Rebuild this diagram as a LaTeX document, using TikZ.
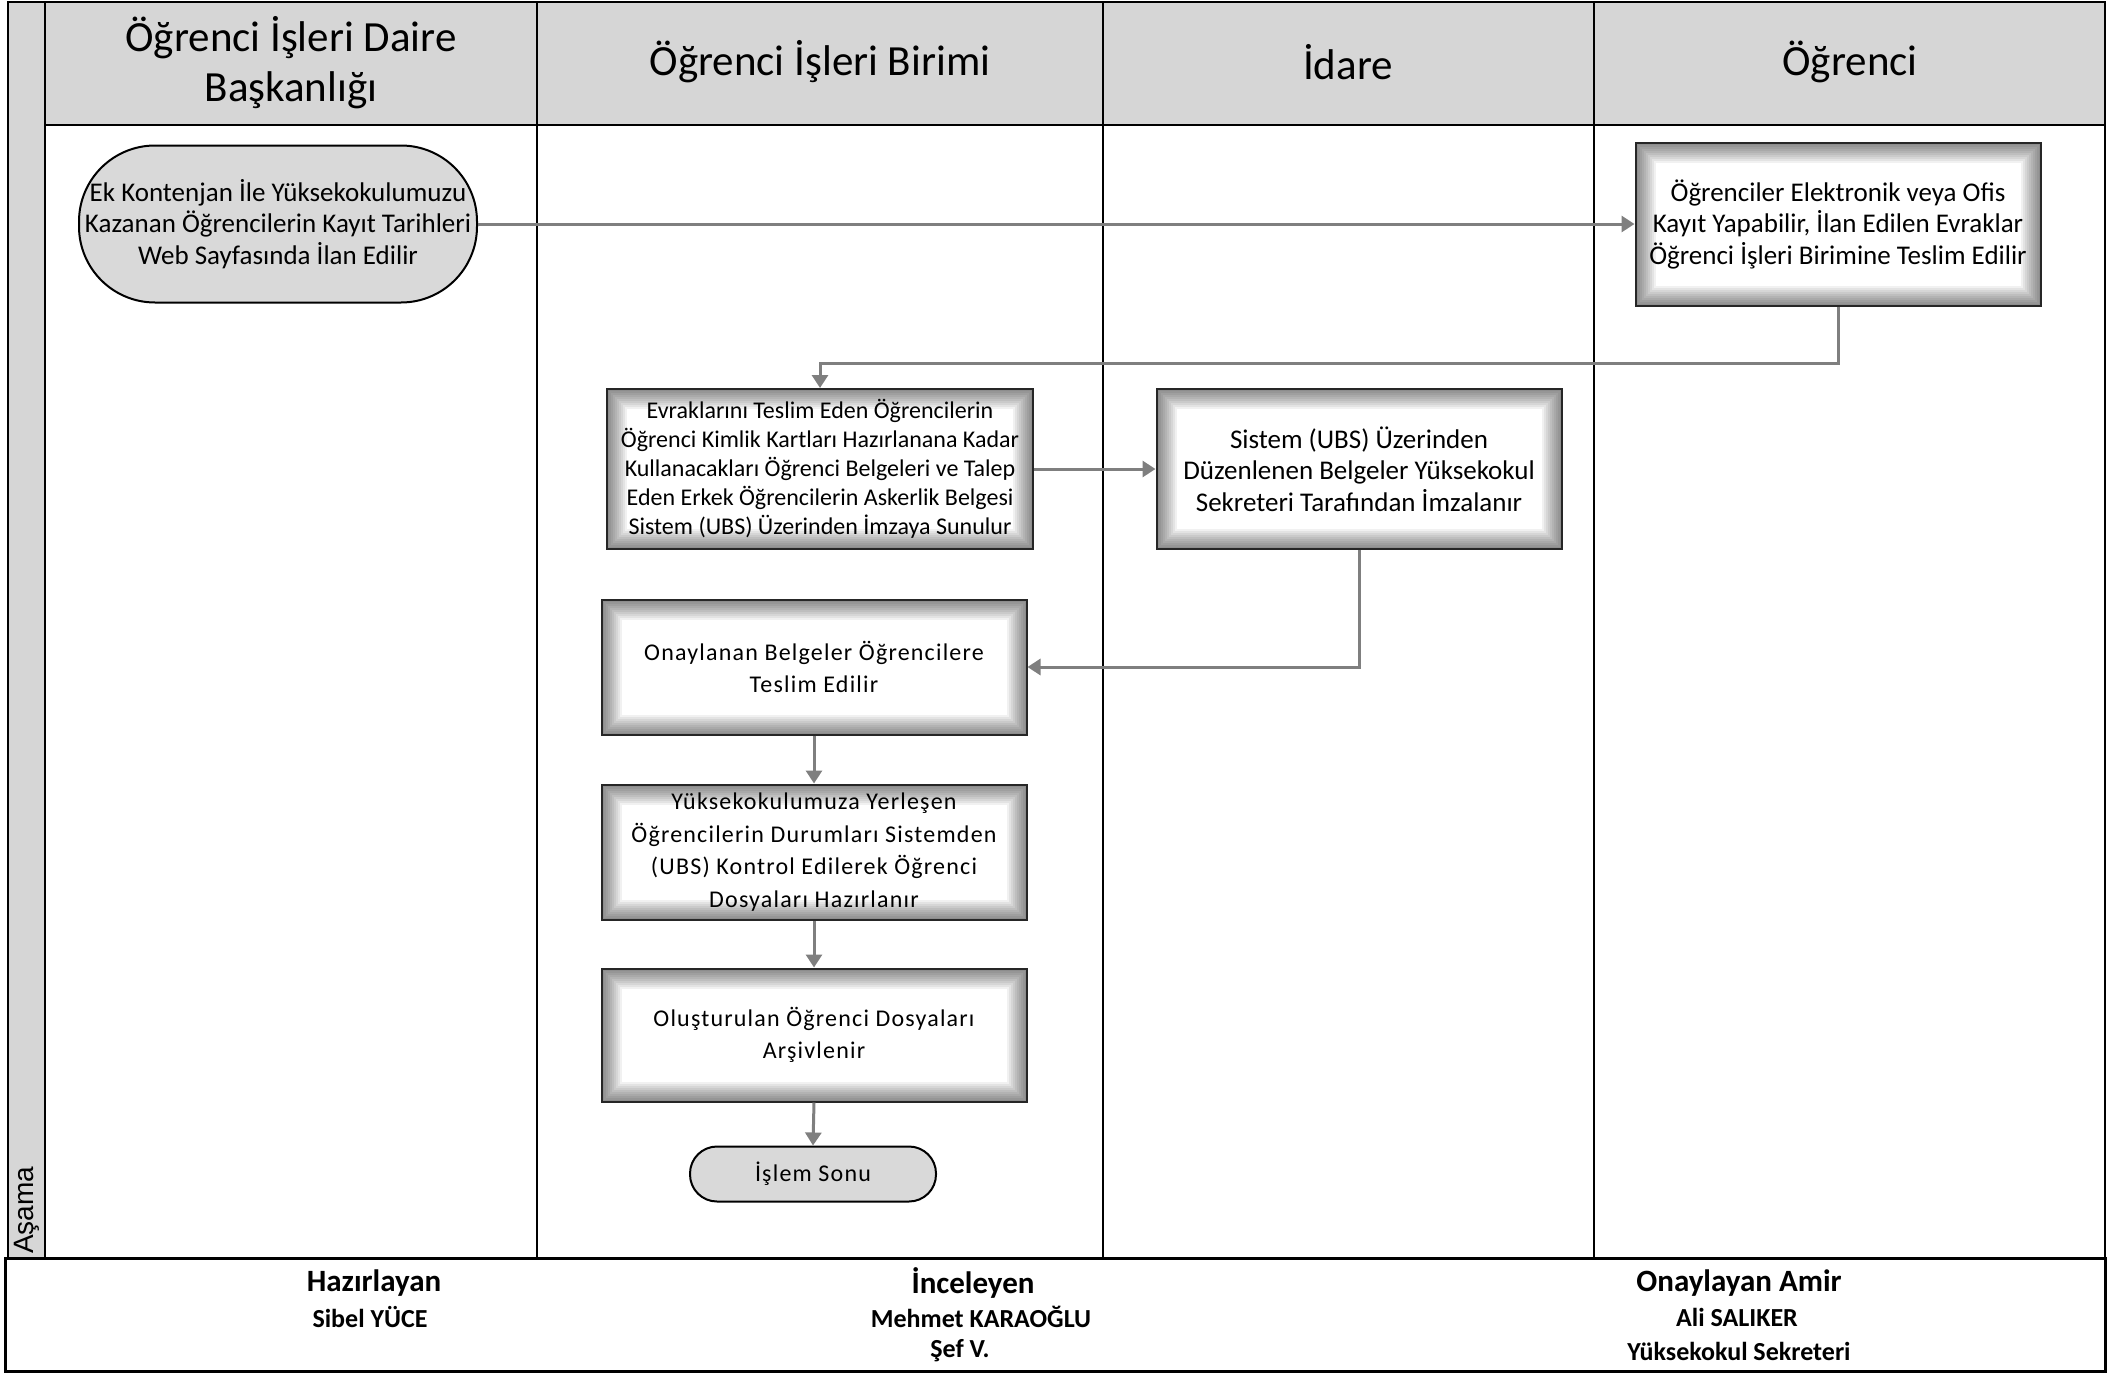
\documentclass[tikz,border=0pt]{standalone}
\usepackage{fontspec}
\setmainfont{Carlito}
\newfontfamily\spacedfont[LetterSpace=5]{Carlito}
\newfontfamily\arialfont{Liberation Sans}
\usetikzlibrary{arrows.meta}
\definecolor{lanegray}{HTML}{D6D6D6}
\definecolor{termgray}{HTML}{D9D9D9}
\definecolor{conngray}{HTML}{7F7F7F}
\tikzset{
  lanehead/.style={align=center, font=\fontsize{43}{50}\selectfont},
  procbox/.style={draw=black!85, line width=2pt, fill=white, align=center, inner sep=0pt,
    path picture={
      \foreach \w in {4,8,...,40}{
        \draw[black, opacity=0.055, line width=\w pt]
          (path picture bounding box.south west) rectangle (path picture bounding box.north east);
      }
    }},
  terminal/.style={draw=black, line width=2pt, fill=termgray, align=center, inner sep=0pt},
  conn/.style={draw=conngray, line width=3pt, -{Triangle[width=16pt,length=13pt]}},
  normtext/.style={font=\fontsize{27}{31.5}\selectfont},
  smalltext/.style={font=\fontsize{24}{29}\selectfont},
  widetext/.style={font=\spacedfont\fontsize{24}{32.5}\selectfont},
  foothead/.style={font=\bfseries\fontsize{31}{34}\selectfont},
  footname/.style={font=\bfseries\fontsize{26}{34}\selectfont},
}
\begin{document}
\begin{tikzpicture}[x=1pt,y=-1pt]
\useasboundingbox (0,0) rectangle (2125,1373);
% lanes
\fill[lanegray] (8,2) rectangle (45,1258);
\fill[lanegray] (45,2) rectangle (2105,125);
\draw[line width=2pt] (8,2) rectangle (2105,1258);
\draw[line width=2pt] (45,2) -- (45,1258);
\draw[line width=2pt] (45,125) -- (2105,125);
\draw[line width=2pt] (537,2) -- (537,1258);
\draw[line width=2pt] (1103,2) -- (1103,1258);
\draw[line width=2pt] (1594,2) -- (1594,1258);
\node[lanehead] (h1) at (291,63) {Öğrenci İşleri Daire\\Başkanlığı};
\node[lanehead] (h2) at (820,62) {Öğrenci İşleri Birimi};
\node[lanehead] (h3) at (1348,62) {İdare};
\node[lanehead] (h4) at (1850,62) {Öğrenci};
\node[rotate=90, anchor=west, font=\arialfont\fontsize{28}{30}\selectfont, inner sep=2pt] (asama) at (27,1256) {Aşama};
% footer
\draw[line width=3pt] (5,1258) rectangle (2105,1371);
\node[foothead] (f1) at (374,1283) {Hazırlayan};
\node[footname] (f1a) at (370,1317) {Sibel YÜCE};
\node[foothead] (f2) at (973,1283) {İnceleyen};
\node[footname] (f2a) at (981,1317) {Mehmet KARAOĞLU};
\node[footname] (f2b) at (960,1351) {Şef V.};
\node[foothead] (f3) at (1739,1283) {Onaylayan Amir};
\node[footname] (f3a) at (1737,1317) {Ali SALIKER};
\node[footname] (f3b) at (1739,1351) {Yüksekokul Sekreteri};
% flow nodes
\node[terminal, normtext, minimum width=398pt, minimum height=157pt, rounded corners=76pt] (start) at (278,224)
  {Ek Kontenjan İle Yüksekokulumuzu\\Kazanan Öğrencilerin Kayıt Tarihleri\\Web Sayfasında İlan Edilir};
\node[procbox, normtext, minimum width=405pt, minimum height=163pt] (b2) at (1838,224)
  {Öğrenciler Elektronik veya Ofis\\Kayıt Yapabilir, İlan Edilen Evraklar\\Öğrenci İşleri Birimine Teslim Edilir};
\node[procbox, smalltext, minimum width=426pt, minimum height=160pt] (b3) at (820,469)
  {Evraklarını Teslim Eden Öğrencilerin\\Öğrenci Kimlik Kartları Hazırlanana Kadar\\Kullanacakları Öğrenci Belgeleri ve Talep\\Eden Erkek Öğrencilerin Askerlik Belgesi\\Sistem (UBS) Üzerinden İmzaya Sunulur};
\node[procbox, normtext, minimum width=405pt, minimum height=160pt] (b4) at (1359,469)
  {Sistem (UBS) Üzerinden\\Düzenlenen Belgeler Yüksekokul\\Sekreteri Tarafından İmzalanır};
\node[procbox, widetext, minimum width=425pt, minimum height=135pt] (b5) at (814,667)
  {Onaylanan Belgeler Öğrencilere\\Teslim Edilir};
\node[procbox, widetext, minimum width=425pt, minimum height=135pt] (b6) at (814,852)
  {Yüksekokulumuza Yerleşen\\Öğrencilerin Durumları Sistemden\\(UBS) Kontrol Edilerek Öğrenci\\Dosyaları Hazırlanır};
\node[procbox, widetext, minimum width=425pt, minimum height=133pt] (b7) at (814,1035)
  {Oluşturulan Öğrenci Dosyaları\\Arşivlenir};
\node[terminal, widetext, minimum width=246pt, minimum height=55pt, rounded corners=27pt] (end) at (813,1174)
  {İşlem Sonu};
% connectors
\draw[conn] (start.east) -- (b2.west);
\draw[conn] (b2.south) -- ++(0,57) -| (b3.north);
\draw[conn] (b3.east) -- (b4.west);
\draw[conn] (b4.south) |- (b5.east);
\draw[conn] (b5.south) -- (b6.north);
\draw[conn] (b6.south) -- (b7.north);
\draw[conn] (b7.south) -- (end.north);
\end{tikzpicture}
\end{document}
